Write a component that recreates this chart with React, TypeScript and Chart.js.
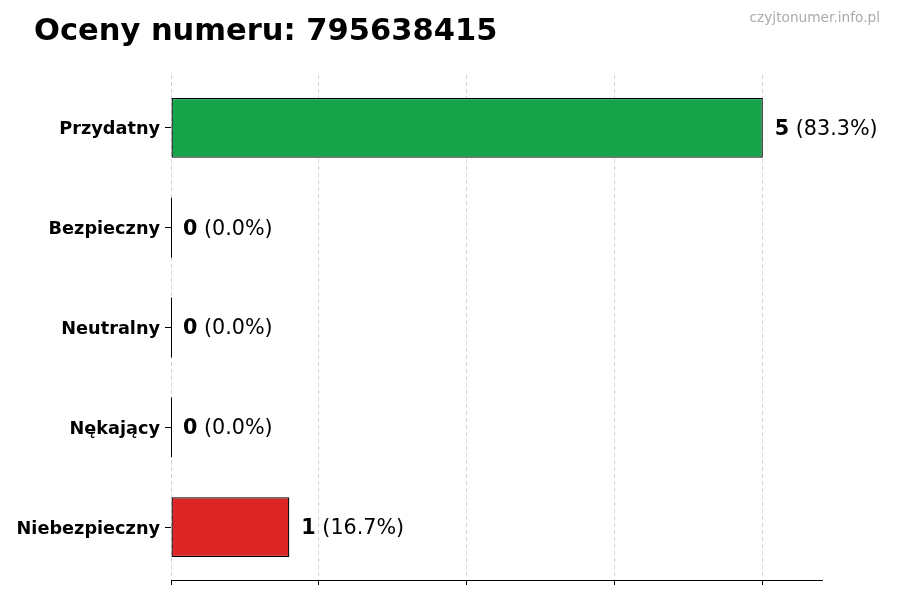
import React, { useEffect, useRef } from "react";
import { Chart, registerables } from "chart.js";

Chart.register(...registerables);

const categories = ["Przydatny", "Bezpieczny", "Neutralny", "Nękający", "Niebezpieczny"];
const values = [5, 0, 0, 0, 1];
const barColors = ["#16a34a", "#16a34a", "#9ca3af", "#dc2626", "#dc2626"];
const xTicks = [0, 1.25, 2.5, 3.75, 5];
const xMax = 5.5;
const yPadding = 0.53;
const titleText = "Oceny numeru: 795638415";
const watermarkText = "czyjtonumer.info.pl";

const FONT = "'DejaVu Sans', sans-serif";

const overlayPlugin = {
  id: "overlay",
  afterDatasetsDraw(chart: any) {
    const ctx = chart.ctx;
    const meta = chart.getDatasetMeta(0);
    const total = values.reduce((a, b) => a + b, 0);
    ctx.save();
    meta.data.forEach((el: any, i: number) => {
      const v = values[i];
      const props = el.getProps(["x", "y", "base", "height"], true);
      if (v === 0) {
        ctx.strokeStyle = "#000";
        ctx.lineWidth = 1;
        ctx.beginPath();
        ctx.moveTo(Math.round(props.base) + 0.5, props.y - props.height / 2);
        ctx.lineTo(Math.round(props.base) + 0.5, props.y + props.height / 2);
        ctx.stroke();
      }
      const x0 = props.x + 12;
      const ty = props.y + 1.5;
      const pct = total ? ((v / total) * 100).toFixed(1) : "0.0";
      ctx.textBaseline = "middle";
      ctx.textAlign = "left";
      ctx.fillStyle = "#000";
      ctx.font = `bold 20.7px ${FONT}`;
      const vs = String(v);
      ctx.fillText(vs, x0, ty);
      const w = ctx.measureText(vs).width;
      ctx.font = `20.7px ${FONT}`;
      ctx.fillText(` (${pct}%)`, x0 + w, ty);
    });
    ctx.restore();
  },
  afterDraw(chart: any) {
    const ctx = chart.ctx;
    const yScale = chart.scales.y;
    ctx.save();
    // category labels
    ctx.fillStyle = "#000";
    ctx.textAlign = "right";
    ctx.textBaseline = "middle";
    ctx.font = `bold 17.7px ${FONT}`;
    categories.forEach((c, i) => {
      const py = yScale.getPixelForValue(i);
      ctx.fillText(c, yScale.right - 11, py + 2);
    });
    // title & watermark
    ctx.textAlign = "left";
    ctx.textBaseline = "alphabetic";
    ctx.font = `bold 30.5px ${FONT}`;
    ctx.fillText(titleText, 34, 40);
    ctx.fillStyle = "#aaaaaa";
    ctx.textAlign = "right";
    ctx.font = `13.7px ${FONT}`;
    ctx.fillText(watermarkText, 880, 22);
    ctx.restore();
  },
};

export default function App() {
  const ref = useRef<HTMLCanvasElement | null>(null);
  useEffect(() => {
    if (!ref.current) return;
    const chart = new Chart(ref.current, {
      type: "bar",
      data: {
        labels: categories,
        datasets: [
          {
            data: values,
            backgroundColor: barColors,
            borderColor: "#000",
            borderWidth: 1.3,
            borderSkipped: false,
            barPercentage: 0.6,
            categoryPercentage: 1,
          },
        ],
      },
      options: {
        indexAxis: "y",
        animation: false,
        responsive: true,
        maintainAspectRatio: false,
        layout: { padding: { left: 0, top: 75, right: 78, bottom: 0 } },
        plugins: {
          legend: { display: false },
          tooltip: { enabled: false },
          title: { display: false },
        },
        scales: {
          x: {
            type: "linear",
            min: 0,
            max: xMax,
            afterFit(scale: any) {
              scale.height = 20;
            },
            afterBuildTicks(scale: any) {
              scale.ticks = xTicks.map((v) => ({ value: v }));
            },
            ticks: { display: false },
            grid: {
              color: "#d4d4d4",
              lineWidth: 1,
              drawTicks: true,
              tickLength: 5,
              tickColor: "#000",
              tickBorderDash: [],
            },
            border: { display: true, color: "#000", width: 1, dash: [4, 3] },
          } as any,
          y: {
            type: "category",
            afterFit(scale: any) {
              scale.width = 171;
            },
            afterUpdate(scale: any) {
              scale._startValue = -yPadding;
              scale._valueRange = categories.length - 1 + 2 * yPadding;
            },
            ticks: {
              display: false,
            },
            grid: {
              offset: false,
              drawOnChartArea: false,
              drawTicks: true,
              tickLength: 6,
              tickColor: "#000",
            },
            border: { display: false },
          } as any,
        },
      },
      plugins: [overlayPlugin],
    });
    return () => chart.destroy();
  }, []);
  return (
    <div style={{ position: "absolute", left: 0, top: 0, width: 900, height: 600, background: "#fff" }}>
      <canvas ref={ref} />
    </div>
  );
}
